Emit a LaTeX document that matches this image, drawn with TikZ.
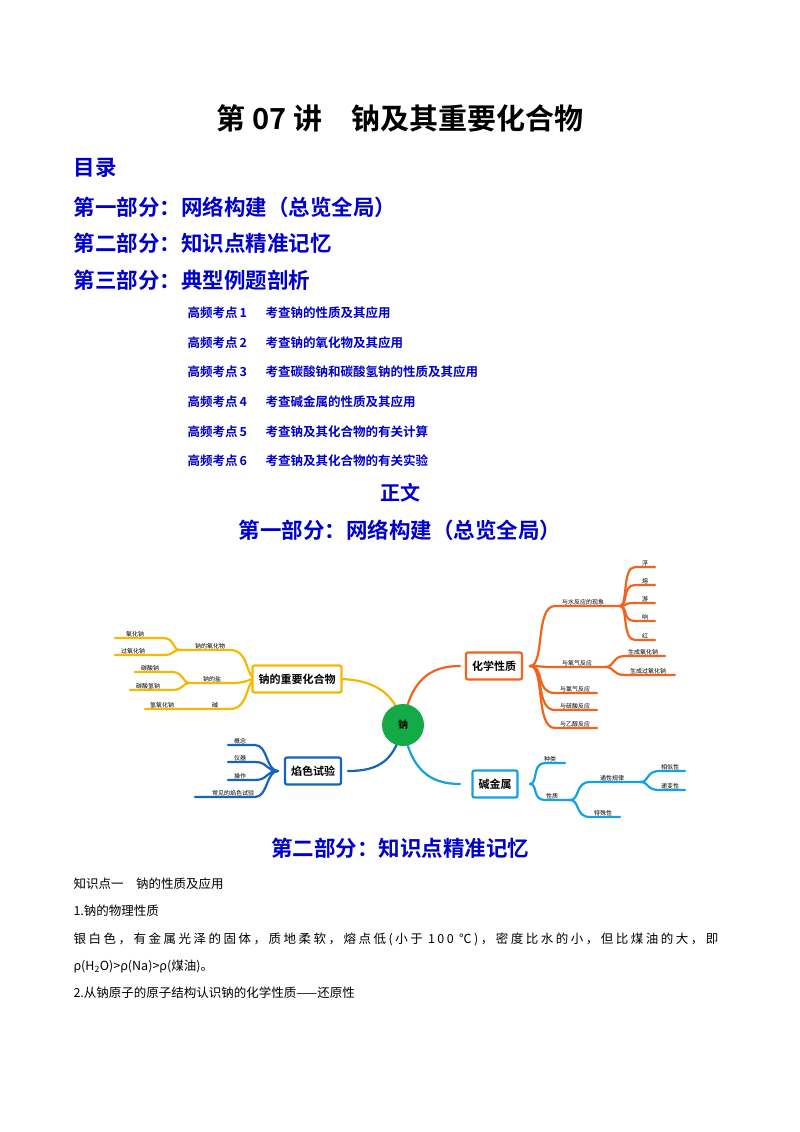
\documentclass[tikz,border=0pt]{standalone}
\usepackage{fontspec}
\setmainfont{Liberation Serif}
\newfontfamily\cjk{Noto Sans CJK SC}
\newfontfamily\cjkb{Noto Sans CJK SC Bold}
\begin{document}
\begin{tikzpicture}[x=1pt,y=-1pt,
 hd/.style={anchor=west,font=\cjkb\fontsize{21.5}{22}\selectfont,text=blue!80!black},
 it/.style={anchor=west,font=\cjkb\fontsize{12.5}{13}\selectfont,text=blue!80!black},
 bd/.style={anchor=west,font=\cjk\fontsize{12.5}{13}\selectfont},
 box/.style={draw,line width=2.2pt,rounded corners=2pt,fill=white,minimum height=27pt,inner xsep=6pt,font=\cjkb\fontsize{11}{12}\selectfont},
 lb/.style={font=\cjk\fontsize{6}{7}\selectfont,inner sep=1pt,anchor=south},
 br/.style={line width=2.2pt,line cap=round}]
\useasboundingbox (0,0) rectangle (800,1132);
\fill[white] (0,0) rectangle (800,1132);
\node[font=\cjkb\fontsize{29}{30}\selectfont] (title) at (400,118) {第 07 讲\quad 钠及其重要化合物};
\node[hd] (ml) at (70,168) {目录};
\node[hd] (p1) at (70,207) {第一部分：网络构建（总览全局）};
\node[hd] (p2) at (70,243) {第二部分：知识点精准记忆};
\node[hd] (p3) at (70,280) {第三部分：典型例题剖析};
\foreach \i/\t/\y in {1/考查钠的性质及其应用/313,2/考查钠的氧化物及其应用/343,3/考查碳酸钠和碳酸氢钠的性质及其应用/372,4/考查碱金属的性质及其应用/402,5/考查钠及其化合物的有关计算/432,6/考查钠及其化合物的有关实验/461}
  \node[it] (k\i) at (184,\y) {高频考点\,\i\hspace{1.5em}\t};
\node[font=\cjkb\fontsize{20}{21}\selectfont,text=blue!80!black] (zw) at (400,493) {正文};
\node[font=\cjkb\fontsize{21.5}{22}\selectfont,text=blue!80!black] (h1) at (400,530) {第一部分：网络构建（总览全局）};
\node[font=\cjkb\fontsize{21.5}{22}\selectfont,text=blue!80!black] (h2) at (400,848) {第二部分：知识点精准记忆};
\node[bd] (t1) at (70,884) {知识点一\quad 钠的性质及应用};
\node[bd] (t2) at (70,911) {1.钠的物理性质};
\node[bd] (t3) at (70,939) {\addfontfeature{LetterSpace=20}银白色，有金属光泽的固体，质地柔软，熔点低(小于 100 ℃)，密度比水的小，但比煤油的大，即};
\node[bd] (t4) at (70,966) {ρ(H\textsubscript{2}O)>ρ(Na)>ρ(煤油)。};
\node[bd] (t5) at (70,993) {2.从钠原子的原子结构认识钠的化学性质——还原性};
% mind map colours
\definecolor{og}{RGB}{240,100,30}\definecolor{cy}{RGB}{20,160,225}
\definecolor{yl}{RGB}{245,185,0}\definecolor{db}{RGB}{20,100,190}\definecolor{gr}{RGB}{20,170,70}
% centre links
\draw[br,og] (403,725) .. controls (410,680) and (430,666) .. (460,666);
\draw[br,cy] (403,725) .. controls (410,770) and (430,784) .. (460,784);
\draw[br,yl] (403,725) .. controls (395,690) and (370,679) .. (337,679);
\draw[br,db] (403,725) .. controls (395,760) and (380,771) .. (348,771);
% orange
\foreach \y/\x in {606/620,667/605,693/597,710/597,728/597}
  \draw[br,og] (530,666) .. controls (545,666) and (535,\y) .. (555,\y) -- (\x,\y);
\foreach \y in {567,585,603,621,640}
  \draw[br,og] (620,606) .. controls (628,606) and (622,\y) .. (635,\y) -- (655,\y);
\draw[br,og] (605,667) .. controls (615,667) and (612,656) .. (625,656) -- (665,656);
\draw[br,og] (605,667) .. controls (615,667) and (612,675) .. (625,675) -- (675,675);
\node[lb] (a1) at (583,606) {与水反应的现象};
\foreach \t/\y in {浮/567,熔/585,游/603,响/621,红/640} \node[lb] at (645,\y) {\t};
\node[lb] (a2) at (577,667) {与氧气反应};
\node[lb] at (643,656) {生成氧化钠};
\node[lb] at (648,675) {生成过氧化钠};
\node[lb] at (575,693) {与氯气反应};
\node[lb] at (575,710) {与硫酸反应};
\node[lb] at (575,728) {与乙醇反应};
% cyan
\draw[br,cy] (530,784) .. controls (538,784) and (532,763) .. (545,763) -- (565,763);
\draw[br,cy] (530,784) .. controls (538,784) and (532,800) .. (545,800) -- (570,800);
\draw[br,cy] (570,800) .. controls (580,800) and (575,782) .. (590,782) -- (640,782);
\draw[br,cy] (570,800) .. controls (580,800) and (575,817) .. (590,817) -- (620,817);
\draw[br,cy] (640,782) .. controls (650,782) and (645,771) .. (660,771) -- (685,771);
\draw[br,cy] (640,782) .. controls (650,782) and (645,790) .. (660,790) -- (685,790);
\node[lb] at (550,763) {种类};
\node[lb] at (552,800) {性质};
\node[lb] at (612,782) {通性规律};
\node[lb] at (603,817) {特殊性};
\node[lb] at (670,771) {相似性};
\node[lb] at (670,790) {递变性};
% yellow
\draw[br,yl] (257,679) .. controls (245,679) and (250,650) .. (230,650) -- (180,650);
\draw[br,yl] (257,679) .. controls (245,679) and (250,683) .. (230,683) -- (190,683);
\draw[br,yl] (257,679) .. controls (245,679) and (250,709) .. (230,709) -- (145,709);
\draw[br,yl] (180,650) .. controls (172,650) and (175,638) .. (163,638) -- (115,638);
\draw[br,yl] (180,650) .. controls (172,650) and (175,655) .. (163,655) -- (115,655);
\draw[br,yl] (190,683) .. controls (182,683) and (184,672) .. (172,672) -- (135,672);
\draw[br,yl] (190,683) .. controls (182,683) and (184,690) .. (172,690) -- (130,690);
\node[lb] at (210,650) {钠的氧化物};
\node[lb] at (212,683) {钠的盐};
\node[lb] at (215,709) {碱};
\node[lb] at (135,638) {氧化钠};
\node[lb] at (133,655) {过氧化钠};
\node[lb] at (150,672) {碳酸钠};
\node[lb] at (148,690) {碳酸氢钠};
\node[lb] at (162,709) {氢氧化钠};
% dark blue
\foreach \y/\x in {745/228,762/228,780/228,797/195}
  \draw[br,db] (278,771) .. controls (266,771) and (268,\y) .. (255,\y) -- (\x,\y);
\node[lb] at (240,745) {概念};
\node[lb] at (240,762) {仪器};
\node[lb] at (240,780) {操作};
\node[lb] at (233,797) {常见的焰色试验};
% boxes
\node[box,draw=og] (hx) at (494,666) {化学性质};
\node[box,draw=cy] (jj) at (495,784) {碱金属};
\node[box,draw=yl] (zy) at (297,679) {钠的重要化合物};
\node[box,draw=db] (ys) at (313,771) {焰色试验};
\node[circle,fill=gr,minimum size=42pt,inner sep=0pt,font=\cjkb\fontsize{10}{11}\selectfont] (na) at (403,725) {钠};
\end{tikzpicture}
\end{document}
